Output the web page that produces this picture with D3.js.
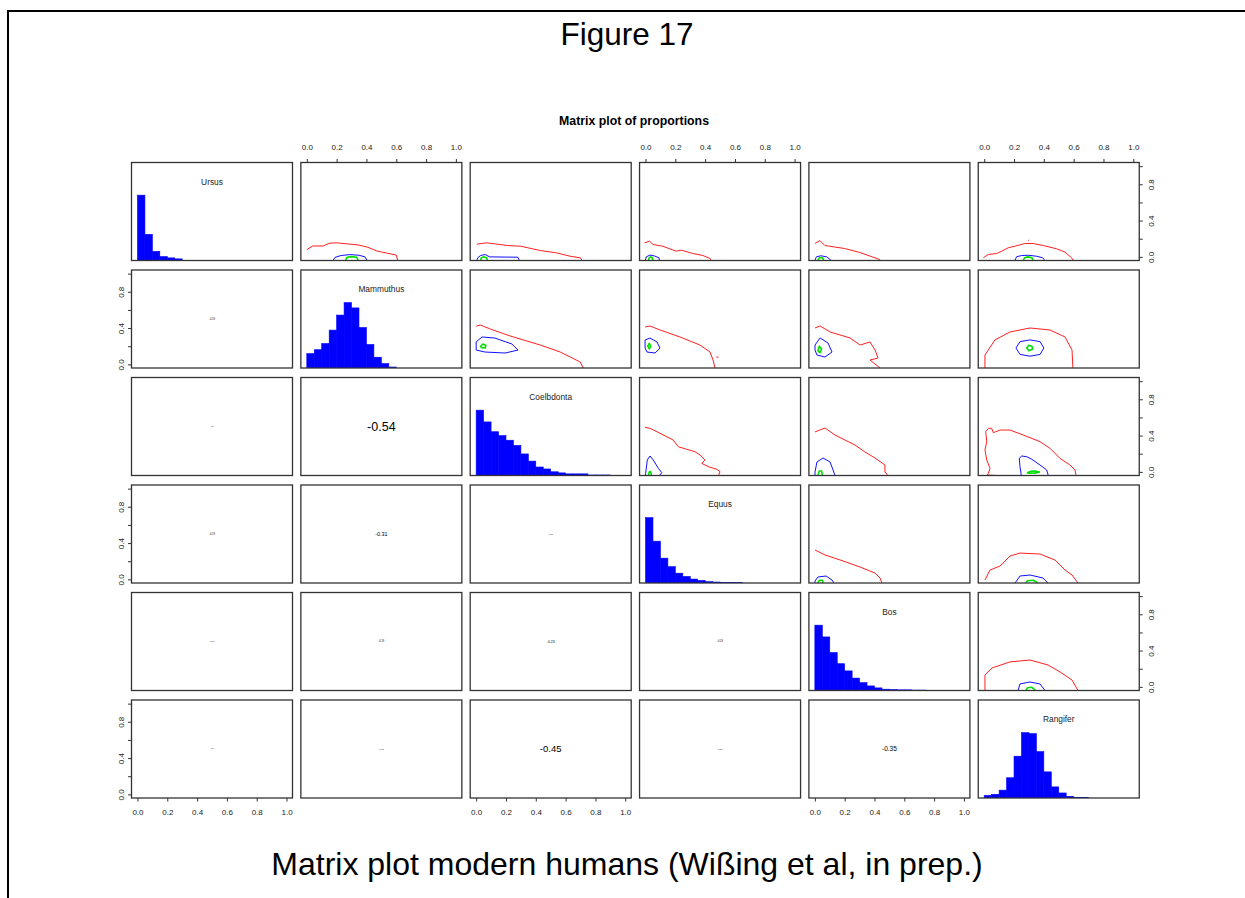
<!DOCTYPE html>
<html>
<head>
<meta charset="utf-8">
<script src="https://cdn.jsdelivr.net/npm/d3@7"></script>
<style>
  body { margin: 0; background: #fff; }
  svg { display: block; }
  text { font-family: Arial, "Liberation Sans", sans-serif; }
</style>
</head>
<body>
<svg id="chart" width="1245" height="898"></svg>
<script>
// ---- data ---------------------------------------------------------------
const species = ["Ursus", "Mammuthus", "Coelbdonta", "Equus", "Bos", "Rangifer"];

// histogram bar heights (relative to the tallest bar), bins of width 0.05 from 0
const binWidth = 0.05;
const ursusHist      = [1.0, 0.40, 0.14, 0.06, 0.04, 0.025];
const mammuthusHist  = [0.22, 0.28, 0.375, 0.58, 0.81, 1.0, 0.92, 0.62, 0.36, 0.165, 0.068, 0.015];
const coelodontaHist = [1.0, 0.82, 0.67, 0.61, 0.54, 0.46, 0.33, 0.22, 0.13, 0.10, 0.057, 0.04, 0.025, 0.025, 0.025, 0.008, 0.008, 0.008];
const equusHist      = [1.0, 0.64, 0.38, 0.25, 0.15, 0.10, 0.06, 0.04, 0.02, 0.015, 0.01, 0.01, 0.006];
const bosHist        = [1.0, 0.82, 0.58, 0.41, 0.30, 0.19, 0.12, 0.07, 0.04, 0.02, 0.015, 0.01, 0.01, 0.006, 0.006];
const rangiferHist   = [0.04, 0.056, 0.12, 0.31, 0.64, 1.0, 0.985, 0.71, 0.40, 0.17, 0.077, 0.026, 0.01, 0.01];
const histograms = [ursusHist, mammuthusHist, coelodontaHist, equusHist, bosHist, rangiferHist];

// axis ticks
const tickValues = [0, 0.2, 0.4, 0.6, 0.8, 1.0];
const xTickLabels = ["0.0", "0.2", "0.4", "0.6", "0.8", "1.0"];
const yTickLabels = ["0.0", "", "0.4", "", "0.8", ""];

// correlations shown in the lower triangle
const corrRow   = [1, 2, 2, 3, 3, 3, 4, 4, 4, 4, 5, 5, 5, 5, 5];
const corrCol   = [0, 0, 1, 0, 1, 2, 0, 1, 2, 3, 0, 1, 2, 3, 4];
const corrValue = [-0.19, -0.12, -0.54, -0.19, -0.31, -0.17, -0.17, -0.19, -0.23, -0.19, -0.12, -0.17, -0.45, -0.17, -0.35];

// density contours in the upper triangle: [x, y] in proportion units
const outerContours = [
  {row: 0, col: 1, closed: false, pts: [[0.00,0.08],[0.04,0.12],[0.11,0.12],[0.15,0.15],[0.20,0.155],[0.29,0.14],[0.35,0.13],[0.41,0.105],[0.47,0.065],[0.54,0.04],[0.60,0.02],[0.61,-0.04]]},
  {row: 0, col: 2, closed: false, pts: [[0.005,0.14],[0.07,0.155],[0.21,0.125],[0.30,0.117],[0.43,0.07],[0.54,0.044],[0.63,0.007],[0.70,-0.011],[0.71,-0.04]]},
  {row: 0, col: 3, closed: false, pts: [[-0.006,0.155],[0.027,0.173],[0.05,0.137],[0.116,0.117],[0.206,0.063],[0.24,0.074],[0.318,0.037],[0.385,0.015],[0.434,-0.018],[0.44,-0.04]]},
  {row: 0, col: 4, closed: false, pts: [[0.0,0.147],[0.034,0.18],[0.067,0.125],[0.2,0.092],[0.302,0.048],[0.436,-0.03],[0.44,-0.04]]},
  {row: 0, col: 5, closed: false, pts: [[-0.006,-0.01],[0.027,0.026],[0.083,0.037],[0.117,0.062],[0.161,0.10],[0.206,0.118],[0.273,0.147],[0.329,0.147],[0.396,0.125],[0.486,0.089],[0.542,0.052],[0.586,-0.01],[0.597,-0.04]]},
  {row: 0, col: 5, closed: false, pts: [[0.295,0.18],[0.302,0.186]]},
  {row: 1, col: 2, closed: false, pts: [[0.0,0.42],[0.027,0.434],[0.094,0.39],[0.228,0.313],[0.43,0.213],[0.564,0.136],[0.631,0.081],[0.698,0.026],[0.718,-0.04]]},
  {row: 1, col: 3, closed: false, pts: [[-0.003,0.412],[0.03,0.423],[0.097,0.379],[0.231,0.302],[0.365,0.213],[0.433,0.136],[0.453,0.048],[0.466,-0.04]]},
  {row: 1, col: 3, closed: false, pts: [[0.475,0.08],[0.49,0.08]]},
  {row: 1, col: 4, closed: false, pts: [[0.001,0.401],[0.035,0.423],[0.102,0.357],[0.236,0.291],[0.303,0.213],[0.37,0.247],[0.404,0.158],[0.424,0.07],[0.37,0.048],[0.437,-0.04]]},
  {row: 1, col: 5, closed: false, pts: [[0.005,-0.04],[0.005,0.103],[0.072,0.269],[0.173,0.357],[0.307,0.401],[0.441,0.379],[0.542,0.302],[0.589,0.158],[0.595,-0.04]]},
  {row: 2, col: 3, closed: false, pts: [[-0.003,0.491],[0.03,0.48],[0.097,0.425],[0.186,0.351],[0.22,0.277],[0.276,0.249],[0.332,0.222],[0.366,0.186],[0.399,0.131],[0.377,0.094],[0.422,0.057],[0.478,0.028],[0.5,0.002],[0.489,-0.04]]},
  {row: 2, col: 4, closed: false, pts: [[0.001,0.44],[0.068,0.484],[0.135,0.406],[0.202,0.351],[0.269,0.296],[0.336,0.219],[0.403,0.153],[0.47,0.076],[0.47,-0.001],[0.49,-0.04]]},
  {row: 2, col: 5, closed: false, pts: [[0.086,-0.04],[0.02,-0.035],[0.028,-0.016],[0.039,0.039],[0.017,0.131],[0.005,0.241],[0.017,0.333],[0.010,0.443],[0.028,0.48],[0.05,0.48],[0.061,0.432],[0.106,0.461],[0.173,0.461],[0.262,0.406],[0.374,0.333],[0.441,0.26],[0.508,0.149],[0.575,0.076],[0.609,0.021],[0.616,-0.04]]},
  {row: 3, col: 4, closed: false, pts: [[0.001,0.324],[0.068,0.269],[0.169,0.214],[0.303,0.136],[0.403,0.07],[0.437,0.015],[0.45,-0.04]]},
  {row: 3, col: 5, closed: false, pts: [[0.005,-0.007],[0.039,0.103],[0.106,0.147],[0.173,0.257],[0.24,0.29],[0.374,0.279],[0.475,0.213],[0.542,0.103],[0.589,0.048],[0.629,-0.04]]},
  {row: 4, col: 5, closed: false, pts: [[0.005,-0.04],[0.005,0.131],[0.052,0.208],[0.173,0.275],[0.307,0.296],[0.428,0.241],[0.509,0.164],[0.589,0.076],[0.629,-0.04]]}
];

const middleContours = [
  {row: 0, col: 1, closed: false, pts: [[0.175,-0.04],[0.19,-0.005],[0.23,0.015],[0.29,0.025],[0.35,0.018],[0.39,0.0],[0.405,-0.04]]},
  {row: 0, col: 2, closed: false, pts: [[0.005,-0.04],[0.01,-0.01],[0.03,0.015],[0.06,0.026],[0.09,0.0],[0.28,-0.004],[0.29,-0.04]]},
  {row: 0, col: 3, closed: false, pts: [[-0.002,-0.04],[0.005,0.0],[0.03,0.02],[0.06,0.01],[0.09,-0.01],[0.094,-0.04]]},
  {row: 0, col: 4, closed: false, pts: [[0.0,-0.04],[0.01,0.0],[0.04,0.012],[0.08,0.0],[0.11,-0.04]]},
  {row: 0, col: 5, closed: false, pts: [[0.206,-0.04],[0.217,0.001],[0.251,0.015],[0.295,0.018],[0.352,0.007],[0.392,-0.01],[0.407,-0.04]]},
  {row: 1, col: 2, closed: true,  pts: [[0.0,0.247],[0.039,0.302],[0.126,0.29],[0.24,0.224],[0.281,0.158],[0.194,0.125],[0.059,0.136],[0.0,0.158]]},
  {row: 1, col: 3, closed: true,  pts: [[-0.003,0.269],[0.03,0.29],[0.077,0.247],[0.097,0.18],[0.064,0.125],[0.01,0.136],[-0.003,0.18]]},
  {row: 1, col: 4, closed: true,  pts: [[0.001,0.213],[0.035,0.291],[0.088,0.236],[0.115,0.136],[0.068,0.081],[0.014,0.103],[0.001,0.158]]},
  {row: 1, col: 5, closed: true,  pts: [[0.213,0.18],[0.24,0.25],[0.307,0.27],[0.375,0.25],[0.40,0.18],[0.375,0.11],[0.307,0.09],[0.24,0.11]]},
  {row: 2, col: 3, closed: false, pts: [[0.001,-0.04],[0.001,-0.016],[0.012,0.131],[0.03,0.175],[0.052,0.131],[0.086,0.039],[0.109,-0.009],[0.093,-0.04]]},
  {row: 2, col: 4, closed: false, pts: [[0.001,-0.04],[0.001,-0.001],[0.014,0.109],[0.055,0.153],[0.102,0.109],[0.122,0.021],[0.135,-0.04]]},
  {row: 2, col: 5, closed: false, pts: [[0.247,-0.04],[0.247,-0.016],[0.24,0.057],[0.235,0.15],[0.252,0.175],[0.285,0.167],[0.319,0.139],[0.374,0.076],[0.419,0.021],[0.43,-0.04]]},
  {row: 3, col: 4, closed: false, pts: [[0.001,-0.04],[0.001,-0.018],[0.021,0.026],[0.075,0.037],[0.115,-0.007],[0.128,-0.04]]},
  {row: 3, col: 5, closed: false, pts: [[0.207,-0.04],[0.24,0.037],[0.307,0.048],[0.394,0.015],[0.428,-0.04]]},
  {row: 4, col: 5, closed: false, pts: [[0.227,-0.04],[0.24,0.032],[0.307,0.054],[0.374,0.032],[0.408,-0.04]]}
];

const innerContours = [
  {row: 0, col: 1, closed: false, pts: [[0.26,-0.04],[0.27,-0.005],[0.30,0.003],[0.335,-0.005],[0.345,-0.04]]},
  {row: 0, col: 2, closed: false, pts: [[0.03,-0.04],[0.035,-0.01],[0.05,0.0],[0.07,-0.01],[0.075,-0.04]]},
  {row: 0, col: 3, closed: false, pts: [[0.02,-0.04],[0.025,-0.01],[0.035,0.0],[0.045,-0.01],[0.05,-0.04]]},
  {row: 0, col: 4, closed: false, pts: [[0.02,-0.04],[0.03,-0.01],[0.05,-0.01],[0.06,-0.04]]},
  {row: 0, col: 5, closed: false, pts: [[0.262,-0.04],[0.27,-0.01],[0.295,0.0],[0.32,-0.01],[0.329,-0.04]]},
  {row: 1, col: 2, closed: true,  pts: [[0.03,0.2],[0.045,0.225],[0.065,0.21],[0.06,0.18],[0.035,0.185]]},
  {row: 1, col: 3, closed: true,  pts: [[0.015,0.2],[0.025,0.23],[0.035,0.2],[0.025,0.17]]},
  {row: 1, col: 4, closed: true,  pts: [[0.02,0.15],[0.03,0.2],[0.045,0.17],[0.035,0.13]]},
  {row: 1, col: 5, closed: true,  pts: [[0.285,0.18],[0.30,0.21],[0.32,0.2],[0.325,0.17],[0.30,0.15]]},
  {row: 2, col: 3, closed: false, pts: [[0.02,-0.04],[0.025,0.0],[0.035,0.0],[0.04,-0.04]]},
  {row: 2, col: 4, closed: false, pts: [[0.02,-0.04],[0.03,0.01],[0.045,0.01],[0.05,-0.04]]},
  {row: 2, col: 5, closed: true,  pts: [[0.29,-0.01],[0.31,0.005],[0.34,0.008],[0.37,-0.002],[0.34,-0.015],[0.30,-0.015]]},
  {row: 3, col: 4, closed: false, pts: [[0.02,-0.04],[0.03,-0.01],[0.05,-0.01],[0.055,-0.04]]},
  {row: 3, col: 5, closed: false, pts: [[0.28,-0.04],[0.29,-0.015],[0.33,-0.01],[0.36,-0.04]]},
  {row: 4, col: 5, closed: false, pts: [[0.28,-0.04],[0.29,-0.01],[0.32,-0.005],[0.345,-0.04]]}
];

// ---- layout ---------------------------------------------------------------
const svg = d3.select("#chart");
const W = 1245, H = 898;
const n = species.length;
const panelW = 161, panelH = 98;
const left0 = 131.5, stepX = 169.35;
const top0 = 162.5, stepY = 107.5;
const proportionDomain = [-0.04, 1.04];
const tickLen = 3.5;
const tickFont = 8;

const panelX = j => left0 + j * stepX;
const panelY = i => top0 + i * stepY;

const xScale = j => d3.scaleLinear().domain(proportionDomain).range([panelX(j), panelX(j) + panelW]);
const yScale = i => d3.scaleLinear().domain(proportionDomain).range([panelY(i) + panelH, panelY(i)]);
const histScale = i => d3.scaleLinear().domain([0, 1.5]).range([panelY(i) + panelH, panelY(i)]);

// page frame
svg.append("line").attr("x1", 7).attr("x2", W).attr("y1", 11).attr("y2", 11)
  .attr("stroke", "#000").attr("stroke-width", 2);
svg.append("line").attr("x1", 8).attr("x2", 8).attr("y1", 10).attr("y2", H)
  .attr("stroke", "#000").attr("stroke-width", 2);

// headings
svg.append("text").attr("x", 627).attr("y", 45).attr("text-anchor", "middle")
  .attr("font-size", 31.5).text("Figure 17");
svg.append("text").attr("x", 627).attr("y", 875).attr("text-anchor", "middle")
  .attr("font-size", 32).text("Matrix plot modern humans (Wißing et al, in prep.)");
svg.append("text").attr("x", 634).attr("y", 125).attr("text-anchor", "middle")
  .attr("font-size", 12).attr("font-weight", "bold")
  .attr("textLength", 150).attr("lengthAdjust", "spacingAndGlyphs")
  .text("Matrix plot of proportions");

const defs = svg.append("defs");
for (let i = 0; i < n; i++) {
  for (let j = 0; j < n; j++) {
    defs.append("clipPath").attr("id", `clip-${i}-${j}`)
      .append("rect").attr("x", panelX(j)).attr("y", panelY(i))
      .attr("width", panelW).attr("height", panelH);
  }
}

// ---- diagonal: histograms and names ---------------------------------------
histograms.forEach((counts, i) => {
  const x = xScale(i), y = histScale(i);
  const g = svg.append("g").attr("clip-path", `url(#clip-${i}-${i})`);
  g.selectAll("rect").data(counts).join("rect")
    .attr("x", (d, k) => x(k * binWidth))
    .attr("width", (d, k) => x((k + 1) * binWidth) - x(k * binWidth))
    .attr("y", d => y(d))
    .attr("height", d => y(0) - y(d))
    .attr("fill", "#0000ff")
    .attr("stroke", "#0000ff").attr("stroke-width", 0.6);
  svg.append("text")
    .attr("transform", `translate(${panelX(i) + panelW / 2},${panelY(i) + 22}) scale(0.88,1)`)
    .attr("text-anchor", "middle").attr("font-size", 9.5).attr("fill", "#222")
    .text(species[i]);
});

// ---- upper triangle: contours ---------------------------------------------
function drawContours(list, colour, width) {
  list.forEach(c => {
    const x = xScale(c.col), y = yScale(c.row);
    const line = d3.line().x(d => x(d[0])).y(d => y(d[1]))
      .curve(c.closed ? d3.curveLinearClosed : d3.curveLinear);
    svg.append("path").attr("clip-path", `url(#clip-${c.row}-${c.col})`)
      .attr("d", line(c.pts)).attr("fill", "none")
      .attr("stroke", colour).attr("stroke-width", width)
      .attr("stroke-linejoin", "round");
  });
}
drawContours(outerContours, "#ff2020", 1);
drawContours(middleContours, "#1010ff", 1);
drawContours(innerContours, "#00e000", 1.6);

// ---- lower triangle: correlation coefficients -----------------------------
const corrSize = d3.scalePow().exponent(1.5).domain([0, 0.54]).range([0, 12.5]);
corrValue.forEach((r, k) => {
  const i = corrRow[k], j = corrCol[k];
  svg.append("text")
    .attr("x", panelX(j) + panelW / 2).attr("y", panelY(i) + panelH / 2)
    .attr("dy", "0.35em").attr("text-anchor", "middle")
    .attr("font-size", corrSize(Math.abs(r))).attr("fill", "#000")
    .text(r.toFixed(2));
});

// ---- panel boxes ------------------------------------------------------------
for (let i = 0; i < n; i++) {
  for (let j = 0; j < n; j++) {
    svg.append("rect").attr("x", panelX(j)).attr("y", panelY(i))
      .attr("width", panelW).attr("height", panelH)
      .attr("fill", "none").attr("stroke", "#333").attr("stroke-width", 1.3);
  }
}

// ---- axes -------------------------------------------------------------------
function styleAxis(g) {
  g.select(".domain").remove();
  g.selectAll(".tick line").attr("stroke", "#333").attr("stroke-width", 1);
  g.selectAll(".tick text").attr("font-size", tickFont).attr("fill", "#222")
    .attr("font-family", "Arial, 'Liberation Sans', sans-serif");
}
for (let j = 0; j < n; j++) {
  if (j % 2 === 1) {            // top axis
    const g = svg.append("g").attr("transform", `translate(0,${panelY(0)})`)
      .call(d3.axisTop(xScale(j)).tickValues(tickValues).tickSize(tickLen).tickPadding(9)
        .tickFormat((d, k) => xTickLabels[k]));
    styleAxis(g);
  } else {                      // bottom axis
    const g = svg.append("g").attr("transform", `translate(0,${panelY(n - 1) + panelH})`)
      .call(d3.axisBottom(xScale(j)).tickValues(tickValues).tickSize(tickLen).tickPadding(8)
        .tickFormat((d, k) => xTickLabels[k]));
    styleAxis(g);
  }
}
for (let i = 0; i < n; i++) {
  const y = yScale(i);
  const onLeft = i % 2 === 1;
  const x0 = onLeft ? panelX(0) : panelX(n - 1) + panelW;
  const g = svg.append("g").attr("transform", `translate(${x0},0)`)
    .call((onLeft ? d3.axisLeft(y) : d3.axisRight(y)).tickValues(tickValues).tickSize(tickLen)
      .tickFormat((d, k) => yTickLabels[k]));
  styleAxis(g);
  // labels run parallel to the axis, reading upwards
  g.selectAll(".tick text")
    .attr("x", null).attr("dy", null).attr("text-anchor", "middle")
    .attr("transform", onLeft ? "translate(-8,0) rotate(-90)" : "translate(15,0) rotate(-90)");
}
</script>
</body>
</html>
